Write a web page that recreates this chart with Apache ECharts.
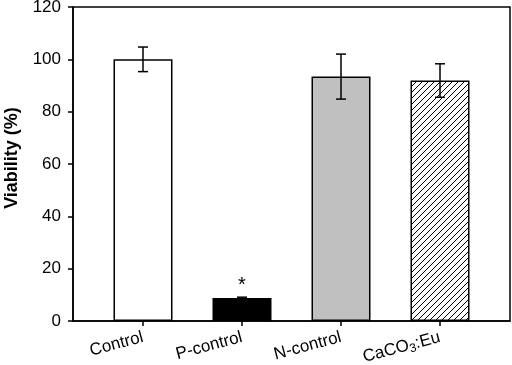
<!DOCTYPE html>
<html>
<head>
<meta charset="utf-8">
<script src="https://cdn.jsdelivr.net/npm/echarts@6/dist/echarts.min.js"></script>
<style>
  html, body { margin: 0; padding: 0; background: #fff; }
  #chart { width: 512px; height: 365px; }
</style>
</head>
<body>
<div id="chart"></div>
<script>
const categories = ['Control', 'P-control', 'N-control', 'CaCO{sub|3}:Eu'];
const viability = [100, 8.8, 93.4, 91.9];
const errors = [4.7, 0.3, 8.6, 6.4];
const sigMarks = ['', '*', '', ''];
const xPositions = [0, 1, 2, 3];

// diagonal hatch tile for the last bar
const hatch = document.createElement('canvas');
hatch.width = 6;
hatch.height = 6;
const hc = hatch.getContext('2d');
hc.fillStyle = '#fff';
hc.fillRect(0, 0, 6, 6);
hc.strokeStyle = '#000';
hc.lineWidth = 1;
hc.beginPath();
hc.moveTo(-1, 7); hc.lineTo(7, -1);
hc.moveTo(-1, 1); hc.lineTo(1, -1);
hc.moveTo(5, 7); hc.lineTo(7, 5);
hc.stroke();

const fills = ['#ffffff', '#000000', '#c0c0c0', { image: hatch, repeat: 'repeat' }];

const chart = echarts.init(document.getElementById('chart'), null, { renderer: 'canvas' });

const font = 'Liberation Sans, Arial, sans-serif';

chart.setOption({
  backgroundColor: '#fff',
  animation: false,
  textStyle: { fontFamily: font },
  grid: {
    left: 73, right: 2, top: 7, bottom: 44,
    outerBoundsMode: 'none',
    containLabel: false,
    show: true, borderColor: '#000', borderWidth: 1.5, backgroundColor: 'transparent'
  },
  xAxis: {
    type: 'value',
    min: -0.707,
    max: 3.707,
    splitLine: { show: false },
    axisLine: { onZero: false, lineStyle: { color: '#000', width: 1.5 } },
    axisTick: { show: true, customValues: xPositions, length: 5, lineStyle: { color: '#000', width: 1.5 } },
    axisLabel: {
      customValues: xPositions,
      rotate: 15,
      margin: 16,
      color: '#000',
      fontSize: 17,
      fontFamily: font,
      formatter: v => categories[Math.round(v)],
      rich: {
        sub: { fontSize: 12, fontFamily: font, color: '#000', verticalAlign: 'bottom', padding: [8, 0, 0, 0] }
      }
    }
  },
  yAxis: {
    type: 'value',
    min: 0,
    max: 120,
    interval: 20,
    name: 'Viability (%)',
    nameLocation: 'middle',
    nameGap: 52,
    nameTextStyle: { fontSize: 18, fontWeight: 'bold', color: '#000', fontFamily: font, padding: [0, 0, 0, 12] },
    splitLine: { show: false },
    axisLine: { show: true, onZero: false, lineStyle: { color: '#000', width: 1.5 } },
    axisTick: { show: true, length: 5, lineStyle: { color: '#000', width: 1.5 } },
    axisLabel: { color: '#000', fontSize: 17, margin: 12, fontFamily: font }
  },
  series: [
    {
      type: 'bar',
      barWidth: 59,
      data: viability.map((v, i) => ({
        value: [xPositions[i], v],
        itemStyle: { color: fills[i], borderColor: '#000', borderWidth: 1.5 },
        label: {
          show: sigMarks[i] !== '',
          formatter: sigMarks[i],
          position: 'top',
          distance: 2,
          fontSize: 20,
          color: '#000',
          fontFamily: font
        }
      }))
    },
    {
      type: 'custom',
      z: 5,
      data: viability.map((v, i) => [xPositions[i], v - errors[i], v + errors[i]]),
      renderItem: (params, api) => {
        const x = api.value(0);
        const lo = api.coord([x, api.value(1)]);
        const hi = api.coord([x, api.value(2)]);
        const w = 5;
        const style = { stroke: '#000', lineWidth: 1.5 };
        return {
          type: 'group',
          children: [
            { type: 'line', shape: { x1: lo[0], y1: lo[1], x2: hi[0], y2: hi[1] }, style },
            { type: 'line', shape: { x1: hi[0] - w, y1: hi[1], x2: hi[0] + w, y2: hi[1] }, style },
            { type: 'line', shape: { x1: lo[0] - w, y1: lo[1], x2: lo[0] + w, y2: lo[1] }, style }
          ]
        };
      }
    }
  ]
});
</script>
</body>
</html>
